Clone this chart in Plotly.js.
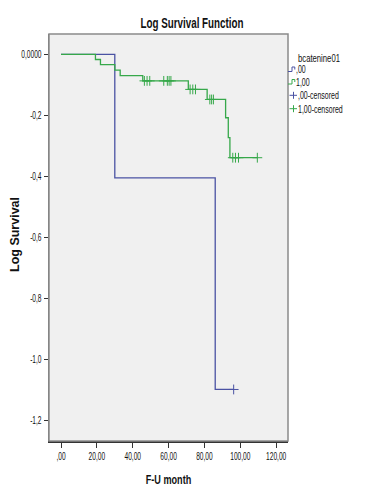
<!DOCTYPE html>
<html>
<head>
<meta charset="utf-8">
<script src="https://cdn.plot.ly/plotly-3.0.1.min.js"></script>
<style>html,body{margin:0;padding:0;background:#fff;}#chart{width:385px;height:501px;}</style>
</head>
<body>
<div id="chart"></div>
<script>
// Group ,00 (step function: event times and log survival)
const g0Time = [0, 30, 86, 96.3];
const g0LogSurv = [0, -0.405, -1.099, -1.099];
// Group ,00 censored
const g0CensTime = [96.3];
const g0CensLogSurv = [-1.099];

// Group 1,00
const g1Time = [0, 19.2, 22, 30, 33, 45.6, 71, 81.5, 91.8, 93.3, 94.2, 109.5];
const g1LogSurv = [0, -0.017, -0.034, -0.052, -0.070, -0.087, -0.115, -0.148, -0.208, -0.273, -0.339, -0.339];
// Group 1,00 censored
const g1CensTime = [46.5, 48, 49.5, 57.3, 59.3, 60.3, 61.3, 72, 73.5, 75, 83, 84, 85, 95.8, 97.3, 99, 109.5];
const g1CensLogSurv = [-0.087, -0.087, -0.087, -0.087, -0.087, -0.087, -0.087, -0.115, -0.115, -0.115, -0.148, -0.148, -0.148, -0.339, -0.339, -0.339, -0.339];

// Axis ticks
const xTickVals = [0, 20, 40, 60, 80, 100, 120];
const xTickText = [",00", "20,00", "40,00", "60,00", "80,00", "100,00", "120,00"];
const yTickVals = [0, -0.2, -0.4, -0.6, -0.8, -1.0, -1.2];
const yTickText = ["0,0000", "-0,2", "-0,4", "-0,6", "-0,8", "-1,0", "-1,2"];

// Titles and legend labels
const chartTitle = "Log Survival Function";
const xTitle = "F-U month";
const yTitle = "Log Survival";
const legendTitle = "bcatenine01";
const legendLabels = [",00", "1,00", ",00-censored", "1,00-censored"];

const blue = "#4a52a3";
const green = "#36a84a";
const sans = "'Liberation Sans', Arial, sans-serif";

const traces = [
  {x: g0Time, y: g0LogSurv, mode: "lines", line: {shape: "hv", color: blue, width: 1.3}, name: legendLabels[0], showlegend: false, hoverinfo: "skip"},
  {x: g1Time, y: g1LogSurv, mode: "lines", line: {shape: "hv", color: green, width: 1.3}, name: legendLabels[1], showlegend: false, hoverinfo: "skip"},
  {x: g0CensTime, y: g0CensLogSurv, mode: "markers", marker: {symbol: "cross-thin", size: 7, line: {color: blue, width: 1}}, name: legendLabels[2], showlegend: false},
  {x: g1CensTime, y: g1CensLogSurv, mode: "markers", marker: {symbol: "cross-thin", size: 7, line: {color: green, width: 1}}, name: legendLabels[3], showlegend: false}
];

// Custom compact legend (paper coords derived from pixels)
const L = 49, R = 288, T = 34, B = 441, W = 385, H = 501;
function px(x){ return (x - L) / (R - L); }
function py(y){ return (B - y) / (B - T); }
function stepPath(y){ return `M ${px(288)} ${py(y + 2.5)} L ${px(292)} ${py(y + 2.5)} L ${px(292)} ${py(y - 2)} L ${px(294.8)} ${py(y - 2)} L ${px(294.8)} ${py(y + 0.5)}`; }

const shapes = [
  {type: "rect", xref: "paper", yref: "paper", x0: 0, x1: 1, y0: 0, y1: 1, line: {color: "#8a8a8a", width: 1.5}, layer: "above"},
  {type: "path", xref: "paper", yref: "paper", path: stepPath(69), line: {color: blue, width: 1}},
  {type: "path", xref: "paper", yref: "paper", path: stepPath(81.5), line: {color: green, width: 1}},
  {type: "line", xref: "paper", yref: "paper", x0: px(289.5), x1: px(297), y0: py(95.3), y1: py(95.3), line: {color: blue, width: 1}},
  {type: "line", xref: "paper", yref: "paper", x0: px(293.5), x1: px(293.5), y0: py(91.8), y1: py(98.8), line: {color: blue, width: 1}},
  {type: "line", xref: "paper", yref: "paper", x0: px(289.5), x1: px(297), y0: py(108.7), y1: py(108.7), line: {color: green, width: 1}},
  {type: "line", xref: "paper", yref: "paper", x0: px(293.5), x1: px(293.5), y0: py(105.2), y1: py(112.2), line: {color: green, width: 1}}
];

const legFont = {family: sans, size: 10, color: "#111"};
function legText(txt, x, y, font){ return {xref: "paper", yref: "paper", x: px(x), y: py(y), xanchor: "left", yanchor: "middle", align: "left", borderpad: 0, text: txt, showarrow: false, font: font}; }
const annotations = [
  legText(legendTitle, 297, 57.5, {family: sans, size: 11, color: "#111"}),
  legText(legendLabels[0], 295.3, 69.5, legFont),
  legText(legendLabels[1], 295.3, 82, legFont),
  legText(legendLabels[2], 297.3, 95.5, legFont),
  legText(legendLabels[3], 297.3, 109, legFont),
  {xref: "paper", yref: "paper", x: px(15), y: py(235), xanchor: "center", yanchor: "middle", textangle: -90, text: "<b>" + yTitle + "</b>", showarrow: false, font: {family: sans, size: 12.5, color: "#111"}}
];

const layout = {
  width: W, height: H,
  margin: {l: L, r: W - R, t: T, b: H - B, pad: 0},
  paper_bgcolor: "#ffffff",
  plot_bgcolor: "#f0f0f0",
  showlegend: false,
  title: {text: "<b>" + chartTitle + "</b>", x: 192 / W, xref: "container", xanchor: "center", y: 1 - 23 / H, yref: "container", yanchor: "middle", font: {family: sans, size: 14, color: "#111"}},
  xaxis: {
    range: [-6.7, 126.6], tickvals: xTickVals, ticktext: xTickText,
    ticks: "outside", ticklen: 5, tickcolor: "#333", tickwidth: 1,
    showgrid: false, zeroline: false, showline: true, linecolor: "#333", linewidth: 1.5,
    tickfont: {family: sans, size: 10, color: "#111"},
    title: {text: "<b>" + xTitle + "</b>", font: {family: sans, size: 13, color: "#111"}, standoff: 14}
  },
  yaxis: {
    range: [-1.268, 0.0667], tickvals: yTickVals, ticktext: yTickText,
    ticks: "outside", ticklen: 4, tickcolor: "#333", tickwidth: 1,
    showgrid: false, zeroline: false, showline: true, linecolor: "#777", linewidth: 1.5,
    tickfont: {family: sans, size: 10, color: "#111"}
  },
  shapes: shapes,
  annotations: annotations
};

Plotly.newPlot("chart", traces, layout, {displayModeBar: false, staticPlot: true}).then(function(gd){
  // The reference is horizontally condensed: narrow every horizontal text
  gd.querySelectorAll("svg text").forEach(function(t){
    const ann = t.closest(".annotation");
    if (ann && ann.getAttribute("data-index") === "5") return; // vertical y title
    const isTick = !!t.closest(".xtick, .ytick");
    const len = t.getComputedTextLength();
    if (len > 0) {
      t.setAttribute("textLength", (len * (isTick ? 0.66 : 0.7)).toFixed(2));
      t.setAttribute("lengthAdjust", "spacingAndGlyphs");
    }
  });
});
</script>
</body>
</html>
